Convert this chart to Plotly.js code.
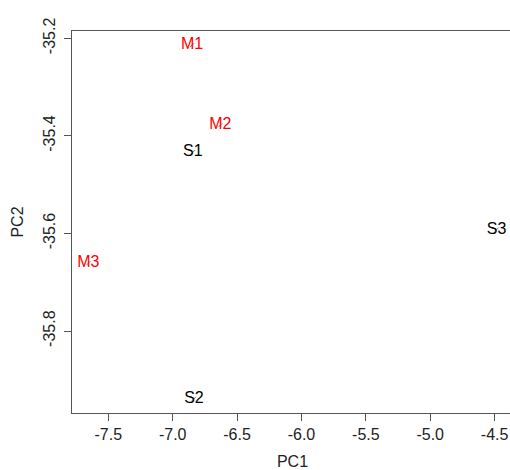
<!DOCTYPE html>
<html><head><meta charset="utf-8">
<script src="https://cdn.plot.ly/plotly-3.0.1.min.js"></script>
<style>html,body{margin:0;padding:0;overflow:hidden;background:#fff;}</style>
</head><body><div id="chart"></div>
<script>
const labels = ["M1","M2","M3","S1","S2","S3"];
const pc1 = [-6.85,-6.63,-7.655,-6.843,-6.835,-4.484];
const pc2 = [-35.214,-35.378,-35.661,-35.433,-35.939,-35.592];
const groupColors = {M:"#ff0000", S:"#000000"};
const xTicks = [-7.5,-7.0,-6.5,-6.0,-5.5,-5.0,-4.5];
const yTicks = [-35.2,-35.4,-35.6,-35.8];

const colors = labels.map(l => groupColors[l[0]]);
const trace = {
  x: pc1, y: pc2, text: labels, type: "scatter", mode: "markers+text",
  textposition: "middle center",
  textfont: {family: "Liberation Sans, Arial, sans-serif", size: 16, color: colors},
  marker: {symbol: "line-ne", size: 4, line: {width: 1, color: "#777"}},
  hoverinfo: "none", cliponaxis: false
};
const font = {family: "Liberation Sans, Arial, sans-serif", size: 16, color: "#222"};
const layout = {
  width: 520, height: 470,
  margin: {l: 72, r: 7, t: 31, b: 57},
  paper_bgcolor: "#fff", plot_bgcolor: "#fff",
  showlegend: false, font: font,
  xaxis: {range: [-7.782, -4.357], tickvals: xTicks, ticktext: xTicks.map(v=>v.toFixed(1)),
    showgrid: false, zeroline: false, showline: true, mirror: true, linecolor: "#555", linewidth: 1,
    ticks: "outside", ticklen: 7, tickcolor: "#555", tickfont: font,
    title: {text: "PC1", font: font, standoff: 14}},
  yaxis: {range: [-35.968, -35.185], tickvals: yTicks, ticktext: yTicks.map(v=>v.toFixed(1)),
    showgrid: false, zeroline: false, showline: true, mirror: true, linecolor: "#555", linewidth: 1,
    ticks: "outside", ticklen: 7, tickcolor: "#555", tickfont: font, tickangle: -90,
    ticklabelstandoff: 3,
    title: {text: "PC2", font: font, standoff: 12}}
};
Plotly.newPlot("chart", [trace], layout, {displayModeBar: false, staticPlot: true});
</script></body></html>
